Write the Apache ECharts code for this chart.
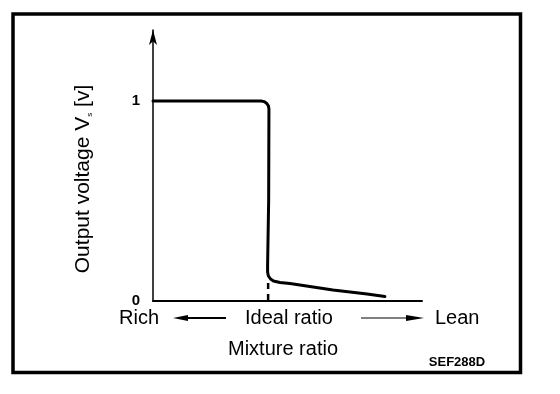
<!DOCTYPE html>
<html>
<head>
<meta charset="utf-8">
<script src="https://cdn.jsdelivr.net/npm/echarts@6/dist/echarts.min.js"></script>
<style>
  html, body { margin: 0; padding: 0; background: #fff; }
  #chart { width: 560px; height: 394px; }
</style>
</head>
<body>
<div id="chart"></div>
<script>
// Mixture ratio (arbitrary units, Rich -> Lean) and sensor output voltage [V]
const mixtureRatio  = [0, 37.9, 40.2, 41.3, 42.2, 42.9, 43.1, 43.0, 42.6, 42.6, 42.9, 43.7, 44.8, 47.2, 50.9, 54.6, 66.9, 79.6, 86.2];
const outputVoltage = [1.0, 1.0, 1.0, 0.997, 0.989, 0.976, 0.96, 0.505, 0.18, 0.145, 0.125, 0.11, 0.10, 0.0925, 0.087, 0.08, 0.055, 0.035, 0.0225];
// Ideal ratio marker (dashed)
const idealRatioX = [42.8, 42.8];
const idealRatioY = [0, 0.09];
// Y tick labels
const yTickLabels = [0, 1];
// Texts
const yTitle = 'Output voltage V';
const ySub = 's';
const yUnit = ' [v]';
const xTitle = 'Mixture ratio';
const richText = 'Rich';
const idealText = 'Ideal ratio';
const leanText = 'Lean';
const codeText = 'SEF288D';

const FONT = '"Liberation Sans", Arial, Helvetica, sans-serif';

const chart = echarts.init(document.getElementById('chart'), null, { renderer: 'canvas' });

const curve = mixtureRatio.map((x, i) => [x, outputVoltage[i]]);
const ideal = idealRatioX.map((x, i) => [x, idealRatioY[i]]);

chart.setOption({
  animation: false,
  backgroundColor: '#fff',
  grid: { left: 153, right: 138, top: 30, bottom: 93, containLabel: false },
  xAxis: {
    type: 'value', min: 0, max: 100,
    name: xTitle, nameLocation: 'middle', nameGap: 38,
    nameTextStyle: { fontFamily: FONT, fontSize: 20, color: '#000', padding: [0, 9, 0, 0] },
    axisLine: { show: true, onZero: false, lineStyle: { color: '#000', width: 2 } },
    axisTick: { show: false }, axisLabel: { show: false }, splitLine: { show: false }
  },
  yAxis: {
    type: 'value', min: 0, max: 1.355, interval: 1,
    axisLine: { show: true, onZero: false, symbol: ['none', 'arrow'], symbolSize: [6, 15], lineStyle: { color: '#000', width: 1.5 } },
    axisTick: { show: false }, splitLine: { show: false },
    axisLabel: {
      showMaxLabel: false,
      margin: 13, color: '#000', fontFamily: FONT, fontSize: 15, fontWeight: 'bold',
      verticalAlign: 'middle', padding: [0, 0, 10, 0],
      formatter: v => (yTickLabels.indexOf(v) >= 0 ? String(v) : '')
    }
  },
  series: [
    {
      type: 'line', data: curve, showSymbol: false, smooth: false,
      lineStyle: { color: '#000', width: 3, join: 'round', cap: 'round' }, z: 3
    },
    {
      type: 'line', data: ideal, showSymbol: false,
      lineStyle: { color: '#000', width: 2.5, type: [7, 5] }, z: 2
    }
  ],
  graphic: [
    { type: 'rect', shape: { x: 13, y: 14, width: 507.5, height: 358.5 }, style: { fill: null, stroke: '#000', lineWidth: 3.5 } },
    {
      type: 'text', x: 82, y: 179, rotation: Math.PI / 2,
      style: {
        text: '{m|' + yTitle + '}{s|' + ySub + '}{m|' + yUnit + '}',
        textAlign: 'center', textVerticalAlign: 'middle', fill: '#000',
        rich: {
          m: { fontFamily: FONT, fontSize: 21, fill: '#000', verticalAlign: 'bottom', lineHeight: 23 },
          s: { fontFamily: FONT, fontSize: 8, fill: '#000', verticalAlign: 'bottom', lineHeight: 14 }
        }
      }
    },
    { type: 'text', x: 119, y: 318, style: { text: richText, font: '20px ' + FONT, fill: '#000', textAlign: 'left', textVerticalAlign: 'middle' } },
    { type: 'text', x: 245, y: 318, style: { text: idealText, font: '20px ' + FONT, fill: '#000', textAlign: 'left', textVerticalAlign: 'middle' } },
    { type: 'text', x: 435, y: 318, style: { text: leanText, font: '20px ' + FONT, fill: '#000', textAlign: 'left', textVerticalAlign: 'middle' } },
    // left arrow
    { type: 'line', shape: { x1: 183, y1: 318, x2: 226, y2: 318 }, style: { stroke: '#000', lineWidth: 2 } },
    { type: 'polygon', shape: { points: [[173, 318], [188, 315], [188, 321]] }, style: { fill: '#000' } },
    // right arrow
    { type: 'line', shape: { x1: 361, y1: 318, x2: 412, y2: 318 }, style: { stroke: '#000', lineWidth: 1.2 } },
    { type: 'polygon', shape: { points: [[424, 318], [406, 315], [406, 321]] }, style: { fill: '#000' } },
    { type: 'text', x: 457, y: 362, style: { text: codeText, font: 'bold 13px ' + FONT, fill: '#000', textAlign: 'center', textVerticalAlign: 'middle' } }
  ]
});
</script>
</body>
</html>
